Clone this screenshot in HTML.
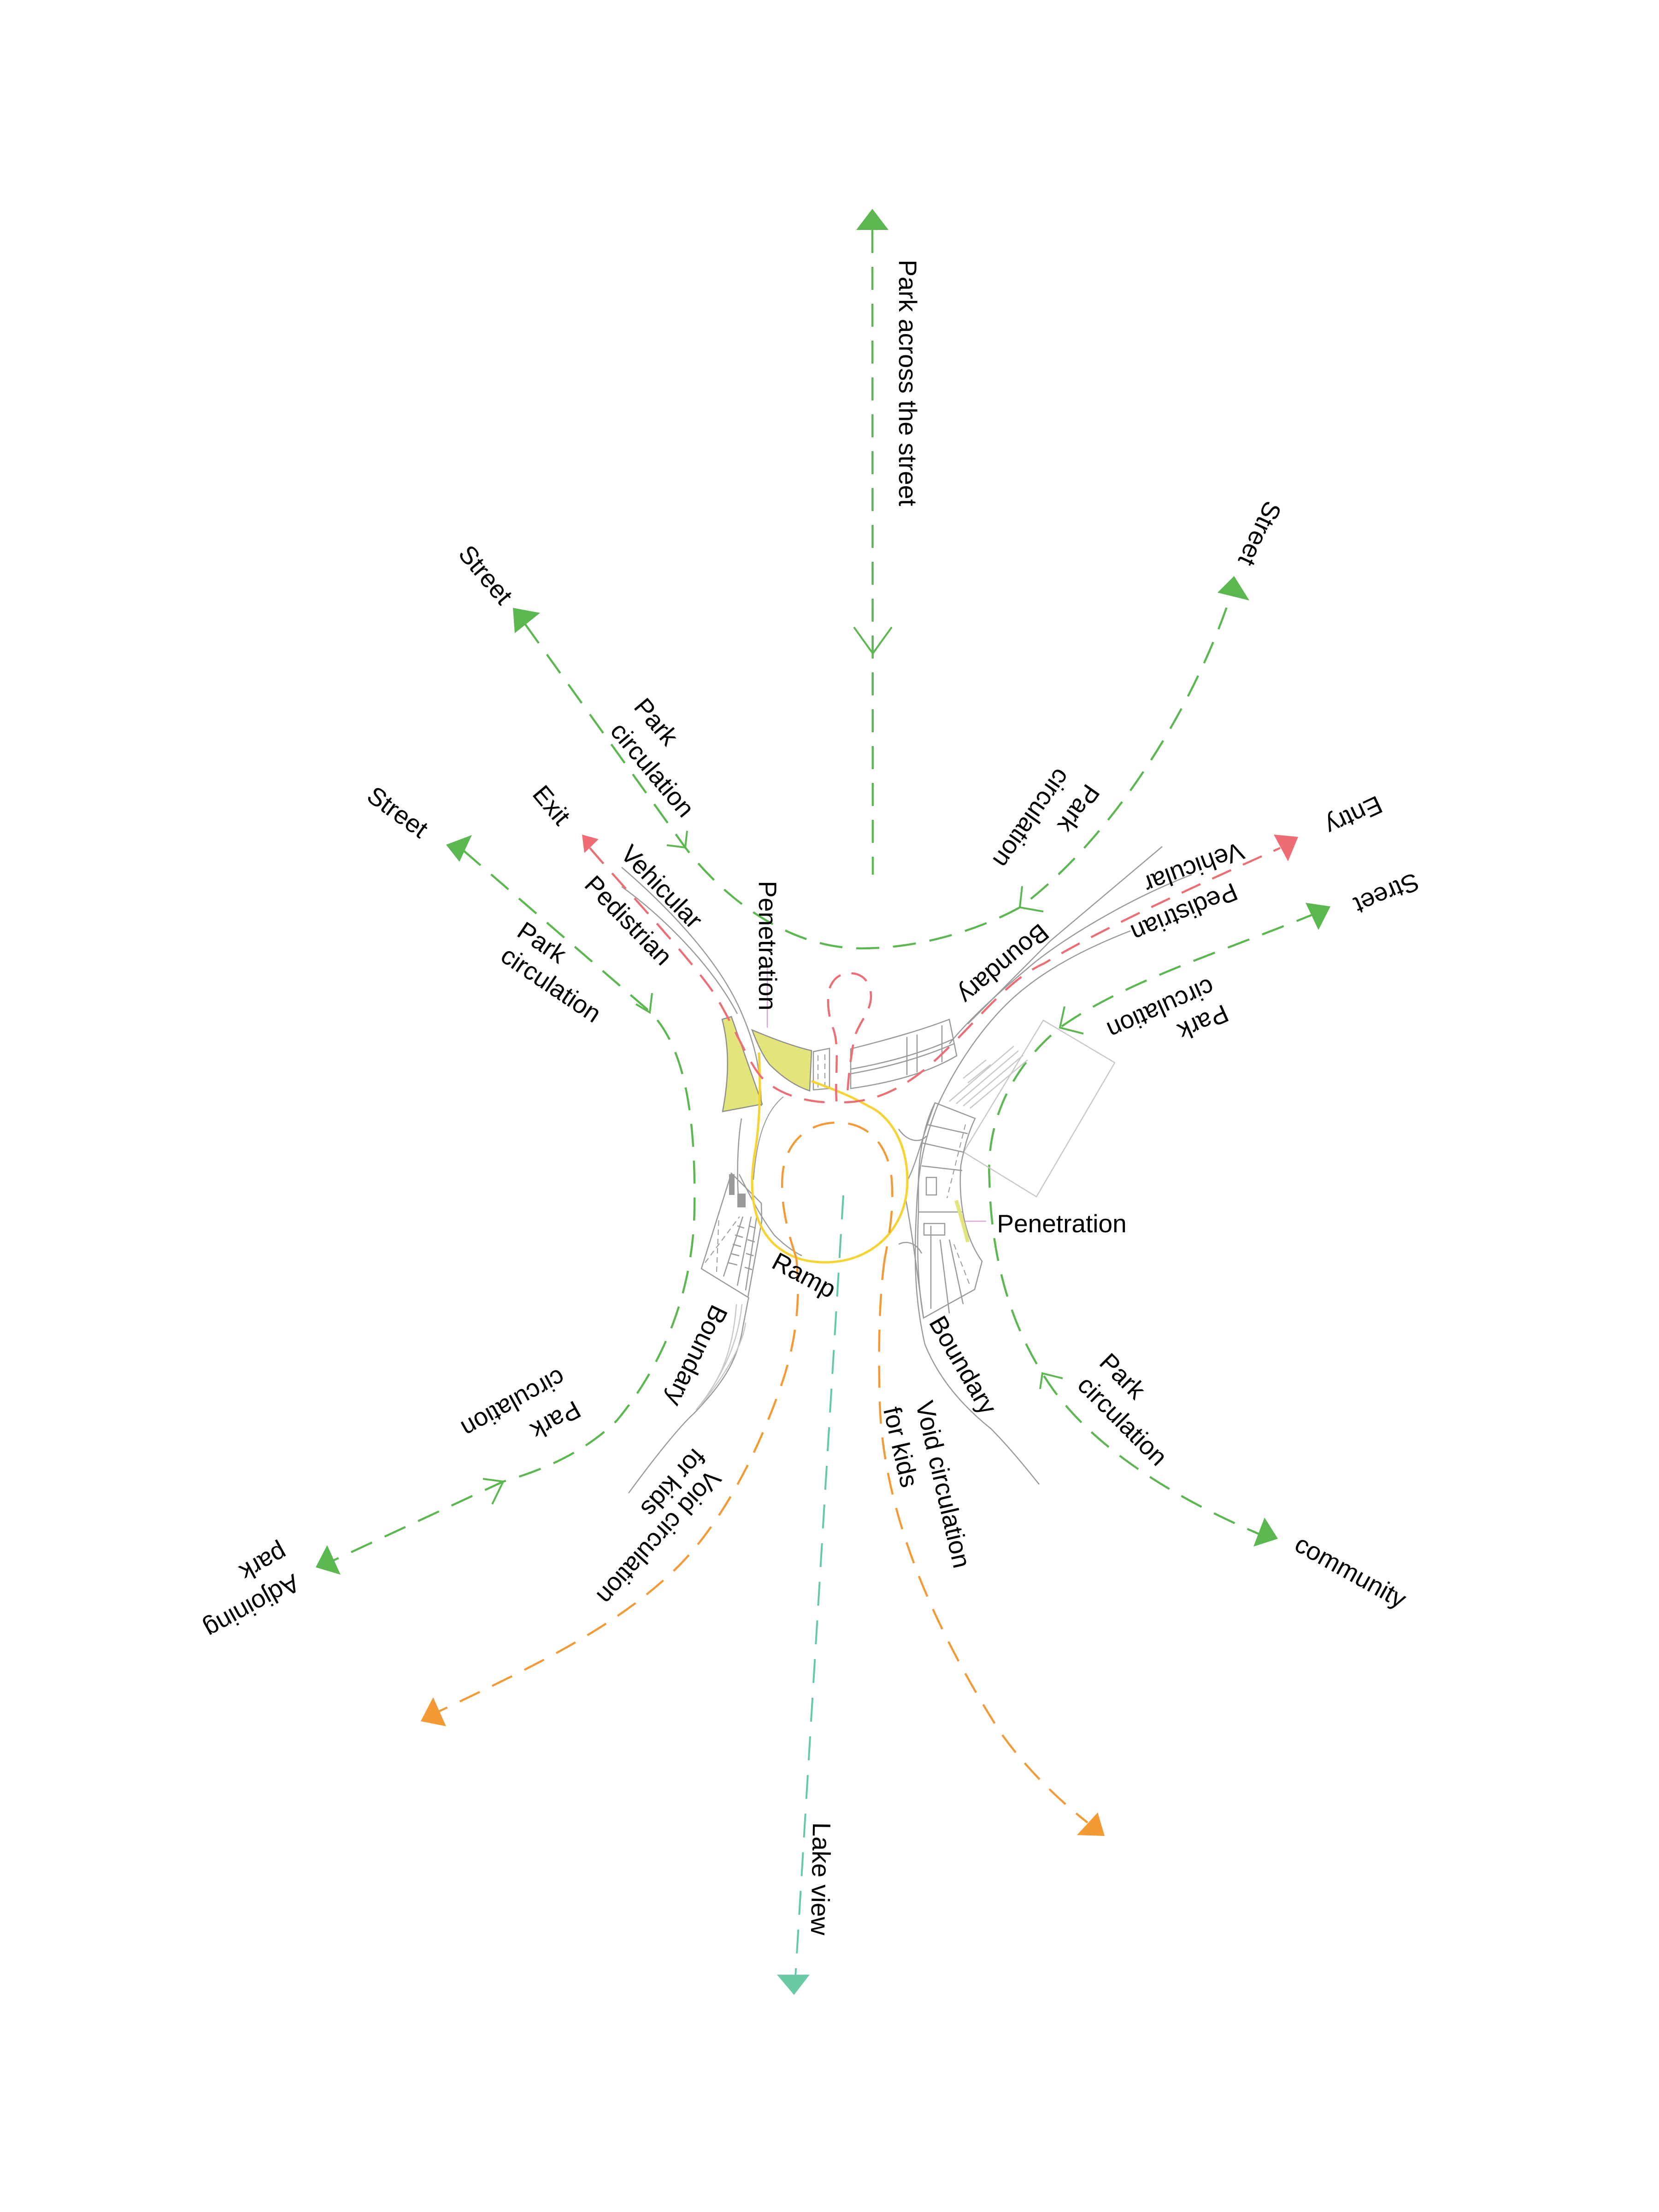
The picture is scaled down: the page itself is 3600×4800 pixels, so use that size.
<!DOCTYPE html>
<html><head><meta charset="utf-8"><style>
html,body{margin:0;padding:0;background:#fff}
svg{display:block}
text{font-family:"Liberation Sans",Arial,sans-serif;font-size:55px;fill:#000;text-anchor:middle;dominant-baseline:central}
.g{fill:none;stroke:#5bb74f;stroke-width:4.5;stroke-dasharray:50 30}
.gs{fill:none;stroke:#5bb74f;stroke-width:4}
.r{fill:none;stroke:#ee6d74;stroke-width:4.5;stroke-dasharray:45 28}
.o{fill:none;stroke:#f39a35;stroke-width:4.5;stroke-dasharray:48 30}
.t{fill:none;stroke:#62c9a2;stroke-width:4;stroke-dasharray:52 32}
.k{fill:none;stroke:#9a9a9b;stroke-width:2.5}
.kl{fill:none;stroke:#c8c8c8;stroke-width:2.5}
.kd{fill:none;stroke:#9a9a9b;stroke-width:2;stroke-dasharray:12 8}
</style></head><body>
<svg width="3600" height="4800" viewBox="0 0 3600 4800" xmlns="http://www.w3.org/2000/svg">
<rect width="3600" height="4800" fill="#fff"/>

<!-- ===== green paths ===== -->
<path class="g" d="M1893,499 L1894,1898"/>
<polygon points="1893,453 1858,499 1928,499" fill="#5bb74f"/>
<polyline class="gs" points="1853,1361 1894,1418 1935,1361"/>

<path class="g" d="M1140,1355 L1487,1839 C1560,1935 1700,2058 1870,2058 C2000,2058 2130,2015 2213,1969 C2400,1830 2580,1560 2668,1300"/>
<polygon points="1113,1319 1172,1330 1117,1374" fill="#5bb74f"/>
<polygon points="2678,1250 2642,1286 2711,1303" fill="#5bb74f"/>
<polyline class="gs" points="1447,1834 1487,1839 1491,1803"/>
<polyline class="gs" points="2218,1923 2213,1969 2264,1978"/>

<path class="g" d="M1005,1845 L1410,2195 C1480,2265 1510,2400 1507,2621 C1505,2800 1440,2960 1339,3082 C1260,3160 1160,3195 1092,3215 L715,3390"/>
<polygon points="968,1833 1024,1812 997,1870" fill="#5bb74f"/>
<polygon points="685,3401 710,3353 739,3417" fill="#5bb74f"/>
<polyline class="gs" points="1380,2179 1410,2197 1415,2155"/>
<polyline class="gs" points="1048,3209 1092,3215 1068,3264"/>

<path class="g" d="M2860,1980 C2650,2066 2440,2130 2300,2230 C2190,2320 2140,2440 2147,2560 C2150,2700 2180,2850 2262,2980 C2340,3110 2500,3230 2735,3330"/>
<polygon points="2887,1967 2833,1959 2861,2018" fill="#5bb74f"/>
<polygon points="2773,3339 2720,3356 2744,3293" fill="#5bb74f"/>
<polyline class="gs" points="2310,2184 2300,2230 2351,2243"/>
<polyline class="gs" points="2257,3014 2262,2980 2306,2991"/>

<!-- ===== gray architecture ===== -->
<path class="k" d="M1349,1882 C1440,1960 1560,2080 1610,2200 C1640,2270 1650,2320 1652,2400"/>
<path class="k" d="M1349,1924 C1440,1990 1545,2095 1600,2200"/>
<path class="k" d="M1609,2427 C1600,2480 1598,2560 1604,2620"/>
<path class="k" d="M2522,1837 L2280,2041 L2100,2222"/>
<path class="k" d="M2586,1898 C2450,1950 2300,2040 2229,2102 C2160,2160 2100,2215 2060,2265"/>
<path class="k" d="M2453,2020 C2350,2060 2280,2100 2229,2140 C2150,2200 2080,2300 2035,2398 C2010,2460 1995,2520 1990,2600 C1985,2700 1980,2800 2007,2917 C2040,3000 2100,3060 2150,3100 C2190,3140 2230,3190 2255,3221"/>
<path class="k" d="M1364,3240 C1430,3150 1480,3090 1506,3067 C1560,3010 1600,2960 1612,2880 C1620,2840 1623,2820 1625,2815"/>
<path class="kl" d="M1520,3050 C1560,2990 1600,2930 1610,2830 M1510,3060 C1560,3000 1590,2940 1598,2830 M1515,3055 C1570,2990 1612,2920 1618,2870"/>
<!-- top block -->
<path class="k" d="M1846,2276 C1930,2255 2000,2235 2060,2212 L2076,2291 C2010,2330 1930,2350 1846,2362 Z"/>
<path class="k" d="M1846,2320 C1930,2305 2000,2285 2068,2255 M1846,2330 C1930,2315 2000,2295 2070,2265"/>
<path class="k" d="M1968,2250 L1968,2333 M1990,2245 L1990,2327 M2044,2225 L2044,2305"/>
<path class="k" d="M1765,2282 L1800,2275 L1800,2362 L1765,2365 Z"/>
<path class="kd" d="M1775,2290 L1775,2360 M1790,2288 L1790,2360"/>
<!-- gray rotated rectangle -->
<polygon class="kl" points="2264,2214 2419,2306 2249,2597 2091,2500"/>
<path class="kl" d="M2060,2390 L2200,2270 M2075,2395 L2210,2280 M2090,2400 L2220,2290 M2105,2405 L2230,2300 M2090,2340 L2140,2300 M2100,2350 L2150,2310"/>
<!-- right building -->
<path class="k" d="M2029,2393 L2116,2427 C2100,2460 2090,2500 2085,2529 C2080,2600 2090,2680 2131,2737 L2115,2798 L2004,2860 C1990,2780 1990,2700 1993,2630 L1993,2560 C1995,2500 2005,2440 2029,2393 Z"/>
<path class="k" d="M2000,2480 L2090,2500 M2010,2440 L2100,2460 M2000,2530 L2088,2540 M1993,2630 L2090,2630"/>
<rect class="k" x="2010" y="2555" width="22" height="38"/>
<path class="k" d="M2005,2655 L2050,2655 L2050,2680 L2005,2680 Z"/>
<path class="k" d="M2020,2660 L2020,2840 M2040,2690 L2060,2850 M2060,2690 L2090,2830"/>
<path class="kd" d="M2095,2440 L2055,2600 M2070,2700 L2105,2790"/>
<path class="k" d="M1970,2560 C1990,2520 2000,2470 2029,2393 M1965,2600 C1980,2680 1990,2760 2004,2860"/>
<path class="k" d="M1950,2450 C1970,2480 2000,2480 2010,2465 M1950,2700 C1970,2690 1990,2700 2000,2720"/>
<!-- left building -->
<path class="k" d="M1587,2546 L1522,2753 L1623,2815 L1653,2650 L1652,2611 Z"/>
<rect x="1582" y="2548" width="12" height="45" fill="#9a9a9b"/>
<rect x="1600" y="2590" width="18" height="30" fill="#9a9a9b"/>
<path class="k" d="M1612,2640 L1570,2770 M1630,2640 L1600,2790 M1642,2640 L1618,2800"/>
<path class="k" d="M1600,2660 L1615,2665 M1595,2680 L1612,2685 M1590,2700 L1608,2705 M1585,2720 L1604,2725 M1580,2740 L1600,2745 M1625,2660 L1640,2665 M1622,2690 L1638,2695 M1619,2720 L1635,2725 M1616,2750 L1632,2755"/>
<path class="kd" d="M1530,2740 L1605,2640 M1555,2760 L1560,2640"/>
<path class="k" d="M1604,2548 C1630,2600 1650,2640 1680,2680 C1700,2700 1720,2715 1740,2725"/>
<!-- penetration pointer lines -->
<path d="M1665,2100 L1665,2230" stroke="#d9a6d2" stroke-width="2.5" fill="none"/>
<path d="M2094,2650 L2140,2650" stroke="#d9a6d2" stroke-width="2.5" fill="none"/>
<path d="M2075,2605 C2085,2640 2095,2670 2100,2695" stroke="#e3e57a" stroke-width="8" fill="none"/>

<!-- ===== yellow shapes ===== -->
<path d="M1567,2212 L1587,2206 L1654,2396 L1568,2412 C1580,2350 1585,2280 1567,2212 Z" fill="#e3e57a" stroke="#8f8f8f" stroke-width="2.5"/>
<path d="M1632,2235 C1680,2255 1720,2270 1761,2280 L1757,2367 C1720,2355 1690,2330 1670,2310 C1655,2290 1642,2262 1632,2235 Z" fill="#e3e57a" stroke="#8f8f8f" stroke-width="2.5"/>
<path d="M1647,2284 C1650,2350 1650,2420 1640,2490 C1625,2570 1628,2650 1680,2700 C1720,2735 1760,2740 1799,2739 C1900,2735 1968,2660 1969,2565 C1970,2480 1930,2420 1884,2400 C1850,2380 1812,2365 1761,2346" fill="none" stroke="#f6d330" stroke-width="5"/>
<path d="M1700,2380 C1650,2420 1640,2500 1635,2560" fill="none" stroke="#9a9a9b" stroke-width="2"/>

<!-- ===== red paths ===== -->
<path class="r" d="M1280,1840 C1330,1900 1500,2080 1553,2161 C1600,2240 1630,2320 1660,2345 C1700,2380 1760,2392 1800,2392"/>
<path class="r" d="M1832,2392 C1950,2390 2030,2300 2073,2259 C2150,2180 2200,2120 2265,2091 C2400,2010 2600,1920 2778,1840"/>
<polygon points="1263,1811 1299,1821 1268,1851" fill="#ee6d74"/>
<polygon points="2817,1816 2764,1811 2795,1869" fill="#ee6d74"/>
<path class="r" style="stroke-dasharray:38 24" d="M1815,2390 C1812,2330 1822,2270 1808,2232 C1795,2200 1795,2160 1800,2145 C1810,2118 1828,2112 1845,2112 C1872,2112 1890,2132 1890,2162 C1890,2200 1858,2222 1852,2262 C1846,2300 1840,2340 1838,2390"/>

<!-- ===== orange paths ===== -->
<path class="o" d="M1728,2730 C1705,2660 1692,2600 1699,2540 C1710,2470 1760,2436 1817,2436 C1885,2436 1928,2485 1935,2560 C1940,2620 1930,2680 1920,2730"/>
<path class="o" d="M1728,2730 C1735,2800 1735,2900 1690,3021 C1640,3160 1560,3320 1452,3418 C1320,3540 1150,3620 935,3722"/>
<polygon points="913,3735 940,3683 968,3746" fill="#f39a35"/>
<path class="o" d="M1920,2730 C1910,2800 1905,2900 1909,3043 C1915,3250 2000,3490 2168,3755 C2220,3830 2290,3900 2360,3955"/>
<polygon points="2397,3984 2337,3982 2382,3933" fill="#f39a35"/>

<!-- ===== teal ===== -->
<path class="t" d="M1830,2594 L1726,4290"/>
<polygon points="1723,4329 1686,4285 1757,4285" fill="#6bc9a5"/>

<!-- ===== labels ===== -->
<text transform="translate(1970,831) rotate(90)">Park across the street</text>
<text transform="translate(1054,1247) rotate(50)">Street</text>
<text transform="translate(1424,1566) rotate(50)">Park</text>
<text transform="translate(1416,1670) rotate(50)">circulation</text>
<text transform="translate(1197,1747) rotate(50)">Exit</text>
<text transform="translate(863,1762) rotate(36)">Street</text>
<text transform="translate(1436,1924) rotate(46)">Vehicular</text>
<text transform="translate(1364,1997) rotate(46)">Pedistrian</text>
<text transform="translate(1176,2045) rotate(34)">Park</text>
<text transform="translate(1196,2136) rotate(34)">circulation</text>
<text transform="translate(1666,2052) rotate(90)">Penetration</text>
<text transform="translate(2734,1158) rotate(115)">Street</text>
<text transform="translate(2341,1755) rotate(125)">Park</text>
<text transform="translate(2239,1776) rotate(125)">circulation</text>
<text transform="translate(2938,1770) rotate(155)">Entry</text>
<text transform="translate(2591,1883) rotate(160)">Vehicular</text>
<text transform="translate(2570,1980) rotate(157)">Pedistrian</text>
<text transform="translate(3009,1939) rotate(157)">Street</text>
<text transform="translate(2178,2092) rotate(140)">Boundary</text>
<text transform="translate(2611,2219) rotate(156)">Park</text>
<text transform="translate(2519,2189) rotate(156)">circulation</text>
<text transform="translate(2304,2655)">Penetration</text>
<text transform="translate(1745,2767) rotate(28)">Ramp</text>
<text transform="translate(1512,2942) rotate(116)">Boundary</text>
<text transform="translate(1206,3082) rotate(151)">Park</text>
<text transform="translate(1114,3045) rotate(151)">circulation</text>
<text transform="translate(547,3486) rotate(151)">Adjoining</text>
<text transform="translate(572,3391) rotate(151)">park</text>
<text transform="translate(1430,3336) rotate(132)">Void circulation</text>
<text transform="translate(1461,3218) rotate(132)">for kids</text>
<text transform="translate(2090,2962) rotate(60)">Boundary</text>
<text transform="translate(2047,3221) rotate(77)">Void circulation</text>
<text transform="translate(1955,3140) rotate(77)">for kids</text>
<text transform="translate(2436,2986) rotate(45)">Park</text>
<text transform="translate(2436,3083) rotate(45)">circulation</text>
<text transform="translate(2931,3410) rotate(29)">community</text>
<text transform="translate(1781,4077) rotate(91)">Lake view</text>
</svg>
</body></html>
